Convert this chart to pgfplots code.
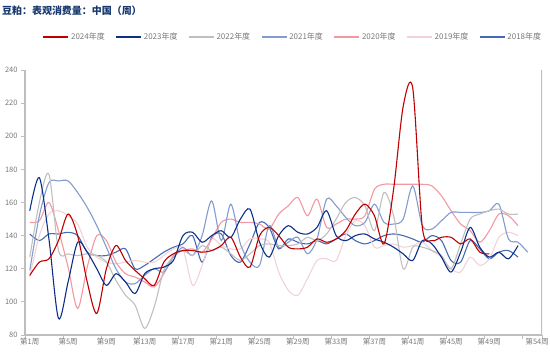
\documentclass[border=0pt]{standalone}
\usepackage{fontspec}
\setmainfont{Noto Sans CJK SC}
\usepackage{pgfplots}
\pgfplotsset{compat=1.18}
\definecolor{c2024}{RGB}{192,0,0}
\definecolor{c2023}{RGB}{12,48,135}
\definecolor{c2022}{RGB}{191,191,191}
\definecolor{c2021}{RGB}{130,156,205}
\definecolor{c2020}{RGB}{243,152,162}
\definecolor{c2019}{RGB}{242,210,215}
\definecolor{c2018}{RGB}{72,106,178}
\definecolor{titleblue}{RGB}{23,55,110}
\definecolor{axisgray}{RGB}{190,190,190}
\definecolor{labgray}{RGB}{120,120,120}
\begin{document}
\begin{tikzpicture}[x=1bp,y=1bp]
\path[use as bounding box] (0,0) rectangle (550,353);
\node[anchor=west, inner sep=0pt, text=titleblue, font=\fontsize{10}{12}\selectfont\bfseries] at (2,342) {豆粕：表观消费量：中国（周）};
\begin{axis}[
  at={(25bp,18bp)}, anchor=south west,
  width=517bp, height=265bp, scale only axis,
  xmin=0.5, xmax=54.5, ymin=80, ymax=240,
  axis x line*=bottom, axis y line*=left,
  axis line style={draw=axisgray, line width=1.2bp},
  tick align=outside,
  tick style={draw=axisgray, line width=0.8bp},
  major tick length=4bp,
  ytick={80,100,...,240},
  /pgf/number format/assume math mode=true,
  yticklabel={\pgfmathprintnumber{\tick}},
  xtick={0.5,4.5,8.5,12.5,16.5,20.5,24.5,28.5,32.5,36.5,40.5,44.5,48.5,52.5,54.5},
  xticklabels={},
  extra x ticks={1,5,9,13,17,21,25,29,33,37,41,45,49,54},
  extra x tick labels={第1周,第5周,第9周,第13周,第17周,第21周,第25周,第29周,第33周,第37周,第41周,第45周,第49周,第54周},
  extra x tick style={major tick length=0pt},
  ticklabel style={font=\fontsize{7.5}{9}\selectfont, text=labgray},
  legend style={at={(0.518,1.124)}, anchor=center, draw=none, fill=none,
    legend columns=-1, font=\fontsize{8}{9}\selectfont, text=labgray,
    /tikz/every even column/.append style={column sep=8.5bp}},
  legend image code/.code={\draw[#1, line width=1.6bp] (0bp,0bp) -- (25bp,0bp);},
  reverse legend,
  every axis plot/.append style={line width=1.1bp, smooth, no markers},
]
\draw[axisgray, line width=1.2bp] (rel axis cs:1,0) -- (rel axis cs:1,1);
% 2018
\addplot[color=c2018] coordinates {
(1,141)(2,137)(3,141)(4,141)(5,142)(6,140)(7,130)(8,128)(9,128)(10,130)(11,132)(12,120)(13,122)(14,126)(15,130)(16,133)(17,135)(18,140)(19,124)(20,139)(21,141)(22,128)(23,124)(24,135)(25,148)(26,145)(27,132)(28,138)(29,136)(30,135)(31,137)(32,135)(33,138)(34,141)(35,137)(36,135)(37,137)(38,140)(39,141)(40,140)(41,138)(42,136)(43,140)(44,137)(45,125)(46,124)(47,137)(48,132)(49,126)(50,130)(51,131)(52,127)};
\addlegendentry{2018年度}
% 2019
\addplot[color=c2019] coordinates {
(1,115)(2,140)(3,153)(4,155)(5,152)(6,147)(7,133)(8,127)(9,124)(10,123)(11,124)(12,125)(13,124)(14,124)(15,128)(16,132)(17,132)(18,110)(19,122)(20,138)(21,134)(22,132)(23,132)(24,138)(25,138)(26,136)(27,118)(28,107)(29,104)(30,114)(31,125)(32,126)(33,125)(34,140)(35,149)(36,146)(37,133)(38,134)(39,135)(40,133)(41,134)(42,136)(43,131)(44,127)(45,120)(46,118)(47,127)(48,122)(49,126)(50,139)(51,142)(52,140)};
\addlegendentry{2019年度}
% 2020
\addplot[color=c2020] coordinates {
(1,148)(2,149)(3,160)(4,143)(5,121)(6,96)(7,121)(8,140)(9,137)(10,124)(11,117)(12,115)(13,112)(14,109)(15,117)(16,128)(17,131)(18,132)(19,130)(20,138)(21,148)(22,150)(23,148)(24,148)(25,147)(26,144)(27,153)(28,158)(29,163)(30,152)(31,162)(32,145)(33,147)(34,150)(35,150)(36,152)(37,168)(38,171)(39,171)(40,171)(41,171)(42,171)(43,170)(44,164)(45,155)(46,147)(47,143)(48,136)(49,143)(50,153)(51,152)(52,146)};
\addlegendentry{2020年度}
% 2021
\addplot[color=c2021] coordinates {
(1,119)(2,152)(3,172)(4,173)(5,173)(6,166)(7,157)(8,146)(9,133)(10,120)(11,112)(12,111)(13,116)(14,120)(15,118)(16,127)(17,133)(18,128)(19,140)(20,161)(21,137)(22,159)(23,135)(24,124)(25,122)(26,146)(27,133)(28,136)(29,139)(30,129)(31,138)(32,162)(33,158)(34,151)(35,146)(36,148)(37,159)(38,148)(39,147)(40,150)(41,170)(42,146)(43,144)(44,149)(45,154)(46,154)(47,154)(48,154)(49,155)(50,159)(51,138)(52,136)(53,130)};
\addlegendentry{2021年度}
% 2022
\addplot[color=c2022] coordinates {
(1,127)(2,160)(3,177)(4,131)(5,129)(6,128)(7,129)(8,128)(9,124)(10,113)(11,104)(12,98)(13,84)(14,97)(15,119)(16,127)(17,131)(18,128)(19,134)(20,131)(21,133)(22,129)(23,125)(24,129)(25,134)(26,135)(27,134)(28,134)(29,135)(30,139)(31,137)(32,141)(33,150)(34,160)(35,163)(36,158)(37,143)(38,166)(39,152)(40,120)(41,133)(42,133)(43,131)(44,128)(45,120)(46,135)(47,150)(48,153)(49,155)(50,156)(51,153)(52,153)};
\addlegendentry{2022年度}
% 2023
\addplot[color=c2023] coordinates {
(1,155)(2,175)(3,138)(4,90)(5,112)(6,136)(7,130)(8,120)(9,110)(10,117)(11,112)(12,105)(13,117)(14,120)(15,121)(16,125)(17,140)(18,142)(19,136)(20,140)(21,143)(22,139)(23,150)(24,156)(25,136)(26,127)(27,140)(28,146)(29,142)(30,141)(31,145)(32,155)(33,140)(34,137)(35,140)(36,141)(37,138)(38,136)(39,133)(40,129)(41,125)(42,137)(43,135)(44,127)(45,118)(46,130)(47,145)(48,133)(49,127)(50,130)(51,126)(52,134)};
\addlegendentry{2023年度}
% 2024
\addplot[color=c2024] coordinates {
(1,116)(2,124)(3,126)(4,137)(5,153)(6,140)(7,112)(8,93)(9,120)(10,134)(11,125)(12,119)(13,114)(14,110)(15,124)(16,129)(17,131)(18,131)(19,130)(20,131)(21,134)(22,139)(23,127)(24,121)(25,140)(26,145)(27,140)(28,133)(29,132)(30,133)(31,138)(32,136)(33,138)(34,143)(35,153)(36,159)(37,152)(38,135)(39,168)(40,218)(41,229)(42,145)(43,137)(44,139)(45,139)(46,135)(47,138)(48,130)(49,129)};
\addlegendentry{2024年度}
\end{axis}
\end{tikzpicture}
\end{document}
